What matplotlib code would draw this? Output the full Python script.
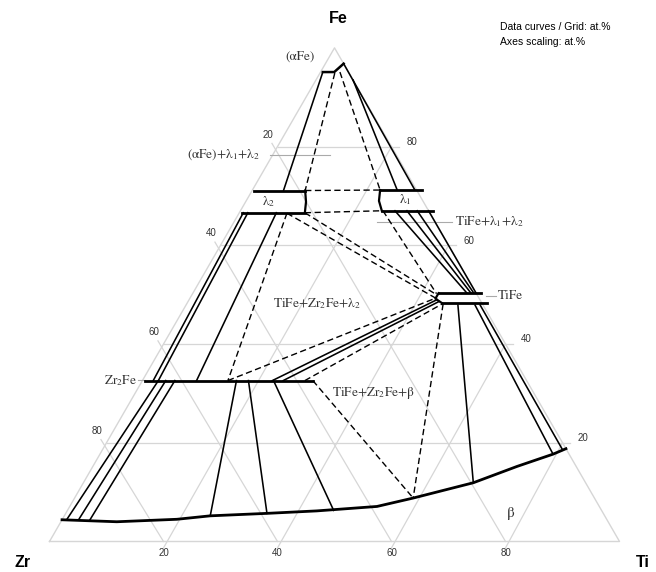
import numpy as np
import matplotlib.pyplot as plt

plt.rcParams['mathtext.fontset'] = 'stix'

# ------------------------------------------------------------
# Fe-Ti-Zr isothermal section  (all compositions in at.%, given as Ti, Fe)
# ------------------------------------------------------------
grid_values = [20, 40, 60, 80]
tick_labels = ["20", "40", "60", "80"]

# beta (Ti,Zr) phase boundary
beta_ti = [0.0, 9.8, 20.1, 25.6, 35.3, 43.8, 53.9, 59.4, 68.4, 74.4, 79.5, 81.2]
beta_fe = [4.4, 4.0, 4.5, 5.2, 5.7, 6.2, 7.1, 8.8, 11.9, 15.2, 17.7, 18.8]

# single phase fields (outlines)
alpha_ti = [0.4, 2.4, 3.2]
alpha_fe = [95.1, 95.1, 96.8]

lam2_top_ti, lam2_top_fe = [0.3, 9.3], [71.1, 71.1]
lam2_bot_ti, lam2_bot_fe = [0.4, 11.5], [66.6, 66.6]
lam2_side_ti, lam2_side_fe = [9.3, 10.6, 11.5], [71.1, 68.8, 66.6]

lam1_top_ti, lam1_top_fe = [22.4, 29.7], [71.2, 71.2]
lam1_bot_ti, lam1_bot_fe = [24.8, 33.8], [67.0, 67.0]
lam1_side_ti, lam1_side_fe = [22.4, 23.3, 24.8], [71.2, 69.0, 67.0]

tife_top_ti, tife_top_fe = [43.1, 50.5], [50.3, 50.3]
tife_bot_ti, tife_bot_fe = [44.7, 52.6], [48.3, 48.3]
tife_side_ti, tife_side_fe = [43.1, 43.1, 44.7], [50.3, 49.2, 48.3]

zr2fe_ti, zr2fe_fe = [0.5, 29.9], [32.6, 32.6]

# solid boundaries / tie lines: (Ti0, Fe0, Ti1, Fe1)
solid_lines = [
    (0.4, 95.1, 5.5, 71.1),
    (3.2, 96.8, 28.5, 71.2),
    (6.5, 93.5, 25.4, 71.2),
    (0.7, 66.6, 1.9, 32.6),
    (1.5, 66.6, 2.8, 32.6),
    (6.5, 66.6, 9.5, 32.6),
    (27.1, 67.0, 48.1, 50.3),
    (29.2, 67.0, 48.8, 50.3),
    (31.0, 67.0, 49.3, 50.3),
    (33.0, 67.0, 49.7, 50.3),
    (2.8, 32.6, 0.8, 4.4),
    (4.1, 32.6, 2.9, 4.4),
    (5.7, 32.6, 4.9, 4.4),
    (16.5, 32.6, 25.6, 5.2),
    (18.6, 32.6, 35.3, 5.7),
    (23.0, 32.6, 46.7, 6.3),
    (22.8, 32.6, 43.5, 49.0),
    (24.7, 32.6, 44.0, 48.6),
    (47.7, 47.9, 68.4, 11.9),
    (50.7, 47.9, 79.2, 18.0),
    (51.6, 47.9, 80.8, 18.5),
]

# three-phase triangle edges (dashed)
dashed_lines = [
    (2.6, 94.9, 9.3, 71.1),
    (3.4, 95.1, 22.4, 71.2),
    (9.3, 71.1, 22.4, 71.2),
    (11.5, 66.6, 24.8, 67.0),
    (11.5, 66.6, 42.7, 50.1),
    (8.4, 66.5, 43.1, 49.3),
    (25.0, 67.0, 42.8, 50.2),
    (8.4, 66.5, 15.0, 32.6),
    (15.0, 32.6, 43.1, 49.3),
    (28.5, 32.6, 44.8, 48.1),
    (29.9, 32.6, 59.4, 8.8),
    (45.0, 48.1, 59.4, 8.8),
]


def tern(ti, fe):
    ti = np.asarray(ti, dtype=float)
    fe = np.asarray(fe, dtype=float)
    return ti + fe / 2, fe * np.sqrt(3) / 2


fig = plt.figure(figsize=(6.56, 5.72), dpi=100)
ax = fig.add_axes([0, 0, 1, 1])
ax.set_xlim(-8.684, 106.40)
ax.set_ylim(-5.351, 95.0)
ax.axis('off')

gcol = '#d6d6d6'
ext = 1.3

# triangle frame
x, y = tern([0, 100, 0, 0], [0, 0, 100, 0])
ax.plot(x, y, color=gcol, lw=1.0, zorder=1)

# grid lines + ticks
for v in grid_values:
    # constant Fe (horizontal), tick to the right
    x, y = tern([0, 100 - v + ext], [v, v])
    ax.plot(x, y, color=gcol, lw=0.9, zorder=1)
    # constant Ti, tick below the base
    x, y = tern([v + ext / 2, v], [-ext, 100 - v])
    ax.plot(x, y, color=gcol, lw=0.9, zorder=1)
    # constant Zr, tick beyond the left edge
    x, y = tern([100 - v, -ext], [0, 100 - v + ext / 2])
    ax.plot(x, y, color=gcol, lw=0.9, zorder=1)

tick_kw = dict(fontsize=7, color='#333333', family='Liberation Sans')
for v, lab in zip(grid_values, tick_labels):
    x, y = tern(v, 0)
    ax.text(x, y - 2.1, lab, ha='center', va='center', **tick_kw)
    x, y = tern(0, 100 - v)
    ax.text(x - 1.6, y + 2.1, lab, ha='center', va='center', **tick_kw)
    x, y = tern(100 - v, v)
    ax.text(x + 3.6, y + 0.8, lab, ha='center', va='center', **tick_kw)

# corner labels
corner_kw = dict(ha='center', va='center', fontsize=11.5,
                 fontweight='bold', family='Liberation Sans')
ax.text(50.6, 91.8, 'Fe', **corner_kw)
ax.text(-4.8, -3.7, 'Zr', **corner_kw)
ax.text(104.0, -3.7, 'Ti', **corner_kw)

fig.text(0.762, 0.953, 'Data curves / Grid: at.%', fontsize=7.5,
         family='Liberation Sans', va='center')
fig.text(0.762, 0.927, 'Axes scaling: at.%', fontsize=7.5,
         family='Liberation Sans', va='center')

# phase diagram curves
ax.plot(*tern(beta_ti, beta_fe), color='k', lw=2.0, zorder=3)
ax.plot(*tern(alpha_ti, alpha_fe), color='k', lw=1.8, zorder=3)
for ti, fe in [(lam2_top_ti, lam2_top_fe), (lam2_bot_ti, lam2_bot_fe),
               (lam1_top_ti, lam1_top_fe), (lam1_bot_ti, lam1_bot_fe),
               (tife_top_ti, tife_top_fe), (tife_bot_ti, tife_bot_fe),
               (zr2fe_ti, zr2fe_fe)]:
    ax.plot(*tern(ti, fe), color='k', lw=2.0, zorder=3)
for ti, fe in [(lam2_side_ti, lam2_side_fe), (lam1_side_ti, lam1_side_fe),
               (tife_side_ti, tife_side_fe)]:
    ax.plot(*tern(ti, fe), color='k', lw=1.6, zorder=3)

for t0, f0, t1, f1 in solid_lines:
    ax.plot(*tern([t0, t1], [f0, f1]), color='k', lw=1.15, zorder=2)
for t0, f0, t1, f1 in dashed_lines:
    ax.plot(*tern([t0, t1], [f0, f1]), color='k', lw=1.0,
            ls=(0, (4.5, 2.5)), zorder=2)

# labels
lab_kw = dict(fontsize=9.5, color='#333333', family='STIXGeneral')
ax.text(43.95, 85.0, '(αFe)', ha='center', va='center', **lab_kw)
ax.text(36.8, 67.8, '(αFe)+λ$_1$+λ$_2$', ha='right', va='center', **lab_kw)
ax.plot([38.7, 49.2], [67.8, 67.8], color='#aaaaaa', lw=0.8, zorder=1)
ax.text(38.4, 59.6, 'λ$_2$', ha='center', va='center', **lab_kw)
ax.text(62.4, 59.9, 'λ$_1$', ha='center', va='center', **lab_kw)
ax.text(71.1, 56.1, 'TiFe+λ$_1$+λ$_2$', ha='left', va='center', **lab_kw)
ax.plot([57.5, 70.6], [56.1, 56.1], color='#aaaaaa', lw=0.8, zorder=1)
ax.text(46.9, 41.7, 'TiFe+Zr$_2$Fe+λ$_2$', ha='center', va='center',
        **lab_kw)
ax.text(15.3, 28.3, 'Zr$_2$Fe', ha='right', va='center', **lab_kw)
ax.plot([15.6, 16.8], [28.3, 28.3], color='#aaaaaa', lw=0.8, zorder=1)
ax.text(56.75, 26.0, 'TiFe+Zr$_2$Fe+β', ha='center', va='center', **lab_kw)
ax.text(78.7, 43.1, 'TiFe', ha='left', va='center', **lab_kw)
ax.plot([76.6, 78.4], [43.1, 43.1], color='#aaaaaa', lw=0.8, zorder=1)
ax.text(80.8, 5.0, 'β', ha='center', va='center',
        fontsize=11, color='#333333', family='STIXGeneral')

fig.savefig('out.png', dpi=100)
